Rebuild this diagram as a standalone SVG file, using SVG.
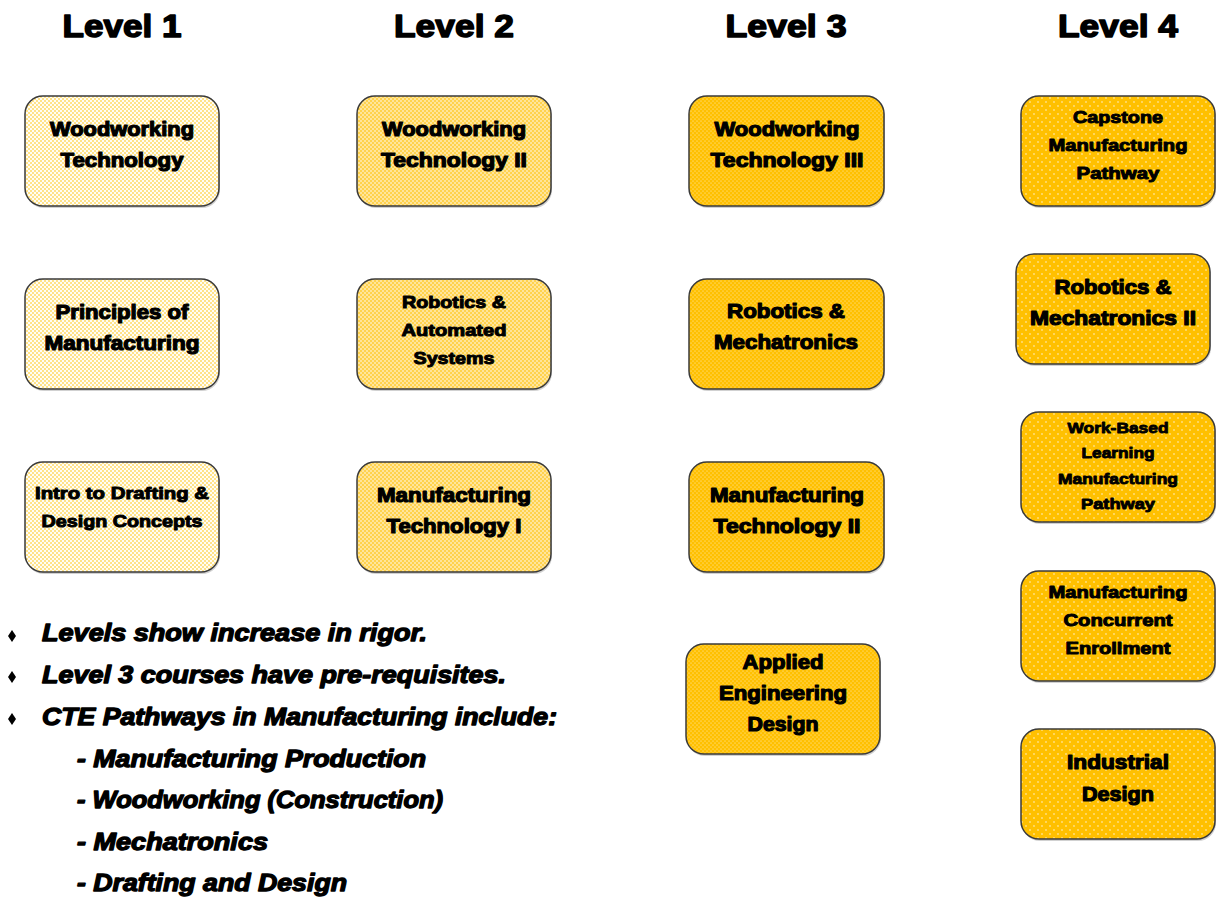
<svg xmlns="http://www.w3.org/2000/svg" width="1225" height="903" viewBox="0 0 1225 903">
<defs>
<pattern id="p1" width="4" height="4" patternUnits="userSpaceOnUse"><rect width="4" height="4" fill="#FFFDF5"/><circle cx="1" cy="1" r="0.8" fill="#FFC000"/><circle cx="3" cy="3" r="0.8" fill="#FFC000"/></pattern>
<pattern id="p2" width="4" height="4" patternUnits="userSpaceOnUse"><rect width="4" height="4" fill="#FFD24D"/><circle cx="1" cy="1" r="0.8" fill="#FFFFFF"/><circle cx="3" cy="3" r="0.8" fill="#FFFFFF"/></pattern>
<pattern id="p3" width="4" height="4" patternUnits="userSpaceOnUse"><rect width="4" height="4" fill="#FFC000"/><circle cx="1" cy="1" r="0.55" fill="#FFF2CC"/><circle cx="3" cy="3" r="0.55" fill="#FFF2CC"/></pattern>
<pattern id="p4" width="8" height="8" patternUnits="userSpaceOnUse"><rect width="8" height="8" fill="#FFC000"/><circle cx="2" cy="2" r="0.7" fill="#FFFFFF"/><circle cx="6" cy="6" r="0.7" fill="#FFFFFF"/></pattern>
</defs>
<style>
.b{stroke:#3a3a3a;stroke-width:1.5}
.sh{fill:#000;opacity:0.18}
.f1{fill:url(#p1)}.f2{fill:url(#p2)}.f3{fill:url(#p3)}.f4{fill:url(#p4)}
text{font-family:"Liberation Sans",Arial,sans-serif;font-weight:bold;fill:#000;stroke:#000;stroke-linejoin:round}
.h{font-size:32px;stroke-width:1.5;text-anchor:middle}
.t{font-size:20px;stroke-width:1.2;text-anchor:middle}
.s{font-size:17px;stroke-width:1;text-anchor:middle}
.x{font-size:15px;stroke-width:0.9;text-anchor:middle}
.n{font-size:23px;font-style:italic;stroke-width:1.3}
.d{fill:#000}
</style>
<rect width="1225" height="903" fill="#FFFFFF"/>
<g id="headers">
<text class="h" x="122" y="37" textLength="119" lengthAdjust="spacingAndGlyphs">Level 1</text>
<text class="h" x="454" y="37" textLength="120" lengthAdjust="spacingAndGlyphs">Level 2</text>
<text class="h" x="786" y="37" textLength="121" lengthAdjust="spacingAndGlyphs">Level 3</text>
<text class="h" x="1118" y="37" textLength="120" lengthAdjust="spacingAndGlyphs">Level 4</text>
</g>
<g id="n_wood1"><rect class="sh" x="26" y="98" width="194" height="110" rx="18"/><rect class="b f1" x="25" y="96" width="194" height="110" rx="18"/>
<text class="t" x="122" y="136" textLength="144" lengthAdjust="spacingAndGlyphs">Woodworking</text>
<text class="t" x="122" y="167" textLength="123" lengthAdjust="spacingAndGlyphs">Technology</text></g>
<g id="n_princ"><rect class="sh" x="26" y="281" width="194" height="110" rx="18"/><rect class="b f1" x="25" y="279" width="194" height="110" rx="18"/>
<text class="t" x="122" y="319" textLength="133" lengthAdjust="spacingAndGlyphs">Principles of</text>
<text class="t" x="122" y="350" textLength="155" lengthAdjust="spacingAndGlyphs">Manufacturing</text></g>
<g id="n_intro"><rect class="sh" x="26" y="464" width="194" height="110" rx="18"/><rect class="b f1" x="25" y="462" width="194" height="110" rx="18"/>
<text class="s" x="122" y="499" textLength="174" lengthAdjust="spacingAndGlyphs">Intro to Drafting &amp;</text>
<text class="s" x="122" y="527" textLength="161" lengthAdjust="spacingAndGlyphs">Design Concepts</text></g>

<g id="n_wood2"><rect class="sh" x="358" y="98" width="194" height="110" rx="18"/><rect class="b f2" x="357" y="96" width="194" height="110" rx="18"/>
<text class="t" x="454" y="136" textLength="144" lengthAdjust="spacingAndGlyphs">Woodworking</text>
<text class="t" x="454" y="167" textLength="146" lengthAdjust="spacingAndGlyphs">Technology II</text></g>
<g id="n_robauto"><rect class="sh" x="358" y="281" width="194" height="110" rx="18"/><rect class="b f2" x="357" y="279" width="194" height="110" rx="18"/>
<text class="s" x="454" y="308" textLength="104" lengthAdjust="spacingAndGlyphs">Robotics &amp;</text>
<text class="s" x="454" y="336" textLength="105" lengthAdjust="spacingAndGlyphs">Automated</text>
<text class="s" x="454" y="364" textLength="81" lengthAdjust="spacingAndGlyphs">Systems</text></g>
<g id="n_mfg1"><rect class="sh" x="358" y="464" width="194" height="110" rx="18"/><rect class="b f2" x="357" y="462" width="194" height="110" rx="18"/>
<text class="t" x="454" y="502" textLength="154" lengthAdjust="spacingAndGlyphs">Manufacturing</text>
<text class="t" x="454" y="533" textLength="135" lengthAdjust="spacingAndGlyphs">Technology I</text></g>

<g id="n_wood3"><rect class="sh" x="690" y="98" width="195" height="110" rx="18"/><rect class="b f3" x="689" y="96" width="195" height="110" rx="18"/>
<text class="t" x="787" y="136" textLength="145" lengthAdjust="spacingAndGlyphs">Woodworking</text>
<text class="t" x="787" y="167" textLength="153" lengthAdjust="spacingAndGlyphs">Technology III</text></g>
<g id="n_robmech"><rect class="sh" x="690" y="281" width="195" height="110" rx="18"/><rect class="b f3" x="689" y="279" width="195" height="110" rx="18"/>
<text class="t" x="786" y="318" textLength="118" lengthAdjust="spacingAndGlyphs">Robotics &amp;</text>
<text class="t" x="786" y="349" textLength="144" lengthAdjust="spacingAndGlyphs">Mechatronics</text></g>
<g id="n_mfg2"><rect class="sh" x="690" y="464" width="195" height="110" rx="18"/><rect class="b f3" x="689" y="462" width="195" height="110" rx="18"/>
<text class="t" x="787" y="502" textLength="154" lengthAdjust="spacingAndGlyphs">Manufacturing</text>
<text class="t" x="787" y="533" textLength="147" lengthAdjust="spacingAndGlyphs">Technology II</text></g>
<g id="n_applied"><rect class="sh" x="687" y="646" width="194" height="110" rx="18"/><rect class="b f3" x="686" y="644" width="194" height="110" rx="18"/>
<text class="t" x="783" y="669" textLength="81" lengthAdjust="spacingAndGlyphs">Applied</text>
<text class="t" x="783" y="700" textLength="128" lengthAdjust="spacingAndGlyphs">Engineering</text>
<text class="t" x="783" y="731" textLength="71" lengthAdjust="spacingAndGlyphs">Design</text></g>

<g id="n_capstone"><rect class="sh" x="1022" y="98" width="194" height="110" rx="18"/><rect class="b f4" x="1021" y="96" width="194" height="110" rx="18"/>
<text class="s" x="1118" y="123" textLength="90" lengthAdjust="spacingAndGlyphs">Capstone</text>
<text class="s" x="1118" y="151" textLength="139" lengthAdjust="spacingAndGlyphs">Manufacturing</text>
<text class="s" x="1118" y="179" textLength="83" lengthAdjust="spacingAndGlyphs">Pathway</text></g>
<g id="n_robmech2"><rect class="sh" x="1017" y="256" width="194" height="110" rx="18"/><rect class="b f4" x="1016" y="254" width="194" height="110" rx="18"/>
<text class="t" x="1113" y="294" textLength="117" lengthAdjust="spacingAndGlyphs">Robotics &amp;</text>
<text class="t" x="1113" y="325" textLength="166" lengthAdjust="spacingAndGlyphs">Mechatronics II</text></g>
<g id="n_wbl"><rect class="sh" x="1022" y="414" width="194" height="110" rx="18"/><rect class="b f4" x="1021" y="412" width="194" height="110" rx="18"/>
<text class="x" x="1118" y="433" textLength="101" lengthAdjust="spacingAndGlyphs">Work-Based</text>
<text class="x" x="1118" y="458" textLength="73" lengthAdjust="spacingAndGlyphs">Learning</text>
<text class="x" x="1118" y="484" textLength="120" lengthAdjust="spacingAndGlyphs">Manufacturing</text>
<text class="x" x="1118" y="509" textLength="74" lengthAdjust="spacingAndGlyphs">Pathway</text></g>
<g id="n_concurrent"><rect class="sh" x="1022" y="573" width="194" height="110" rx="18"/><rect class="b f4" x="1021" y="571" width="194" height="110" rx="18"/>
<text class="s" x="1118" y="598" textLength="139" lengthAdjust="spacingAndGlyphs">Manufacturing</text>
<text class="s" x="1118" y="626" textLength="109" lengthAdjust="spacingAndGlyphs">Concurrent</text>
<text class="s" x="1118" y="654" textLength="105" lengthAdjust="spacingAndGlyphs">Enrollment</text></g>
<g id="n_industrial"><rect class="sh" x="1022" y="731" width="194" height="110" rx="18"/><rect class="b f4" x="1021" y="729" width="194" height="110" rx="18"/>
<text class="t" x="1118" y="769" textLength="102" lengthAdjust="spacingAndGlyphs">Industrial</text>
<text class="t" x="1118" y="801" textLength="72" lengthAdjust="spacingAndGlyphs">Design</text></g>

<g id="connectors"></g>

<g id="notes">
<path class="d" d="M12 630 L16 636 L12 642 L8 636 Z"/>
<path class="d" d="M12 671 L16 677 L12 683 L8 677 Z"/>
<path class="d" d="M12 713 L16 719 L12 725 L8 719 Z"/>
<text class="n" x="42" y="641" textLength="385" lengthAdjust="spacingAndGlyphs">Levels show increase in rigor.</text>
<text class="n" x="42" y="683" textLength="464" lengthAdjust="spacingAndGlyphs">Level 3 courses have pre-requisites.</text>
<text class="n" x="42" y="725" textLength="515" lengthAdjust="spacingAndGlyphs">CTE Pathways in Manufacturing include:</text>
<text class="n" x="77" y="767" textLength="349" lengthAdjust="spacingAndGlyphs">- Manufacturing Production</text>
<text class="n" x="77" y="808" textLength="366" lengthAdjust="spacingAndGlyphs">- Woodworking (Construction)</text>
<text class="n" x="77" y="850" textLength="191" lengthAdjust="spacingAndGlyphs">- Mechatronics</text>
<text class="n" x="77" y="891" textLength="270" lengthAdjust="spacingAndGlyphs">- Drafting and Design</text>
</g>
</svg>
